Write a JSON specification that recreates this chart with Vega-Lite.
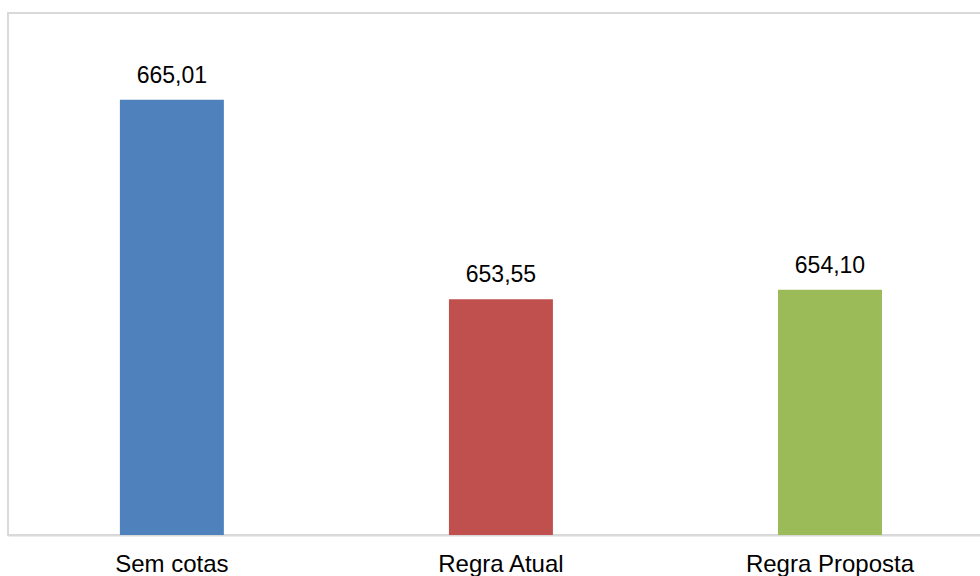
{
  "$schema": "https://vega.github.io/schema/vega-lite/v6.json",
  "autosize": {"type": "none"},
  "padding": {"left": 8, "top": 13, "right": 0, "bottom": 41},
  "width": 974,
  "height": 522,
  "background": "white",
  "config": {
    "locale": {"number": {"decimal": ",", "thousands": ".", "grouping": [3], "currency": ["R$", ""]}},
    "view": {"stroke": "#d9d9d9", "strokeWidth": 2},
    "font": "Liberation Sans"
  },
  "data": {
    "values": [
      {"categoria": "Sem cotas", "valor": 665.01},
      {"categoria": "Regra Atual", "valor": 653.55},
      {"categoria": "Regra Proposta", "valor": 654.10}
    ]
  },
  "encoding": {
    "x": {
      "field": "categoria",
      "type": "nominal",
      "sort": null,
      "scale": {"paddingInner": 0.684, "paddingOuter": 0.322, "align": 0.528},
      "axis": {
        "title": null,
        "labelAngle": 0,
        "ticks": false,
        "tickSize": 0,
        "domainColor": "#d9d9d9",
        "domainWidth": 2,
        "labelFontSize": 24,
        "labelColor": "#000000",
        "labelFont": "Liberation Sans",
        "labelBaseline": "alphabetic",
        "labelPadding": 36
      }
    },
    "y": {
      "field": "valor",
      "type": "quantitative",
      "scale": {"domain": [640, 670], "zero": false, "nice": false},
      "axis": null
    }
  },
  "layer": [
    {
      "mark": {"type": "bar", "clip": true},
      "encoding": {
        "color": {
          "field": "categoria",
          "type": "nominal",
          "sort": null,
          "scale": {"domain": ["Sem cotas", "Regra Atual", "Regra Proposta"], "range": ["#4f81bd", "#c0504d", "#9bbb59"]},
          "legend": null
        }
      }
    },
    {
      "mark": {"type": "text", "baseline": "alphabetic", "dy": -17, "fontSize": 23, "color": "#000000", "font": "Liberation Sans"},
      "encoding": {
        "text": {"field": "valor", "type": "quantitative", "format": ".2f"}
      }
    }
  ]
}
